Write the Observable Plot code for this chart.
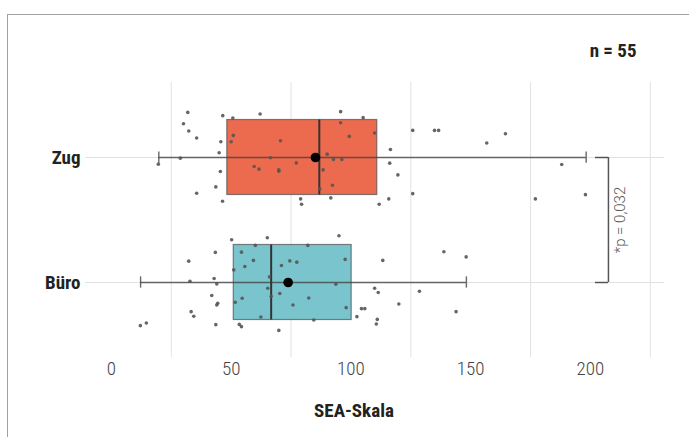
<!DOCTYPE html>
<html><head><meta charset="utf-8">
<script src="https://cdn.jsdelivr.net/npm/d3@7"></script>
<script src="https://cdn.jsdelivr.net/npm/@observablehq/plot@0.6"></script>
<style>
body{margin:0;background:#fff;}
#wrap{position:relative;width:689px;height:437px;overflow:hidden;background:#fff;}
#frame{position:absolute;left:7px;top:14px;right:-2px;bottom:-2px;border:1px solid #a0a0a0;pointer-events:none;}
#chart{position:absolute;left:0;top:0;}
</style></head><body>
<div id="wrap"><div id="chart"></div><div id="frame"></div></div>
<script>
// categories
const groups = ["Zug", "Büro"];
const boxColors = ["#EC6A4E", "#7AC5CD"];
// summary values
const minV = [19.8, 12.2];
const q1V = [48.4, 51.1];
const medV = [86.8, 66.7];
const q3V = [111.0, 100.3];
const maxV = [198.2, 148.2];
const meanV = [85.2, 73.8];
// individual observations (SEA-Skala) and their vertical jitter within the band
const zugValues = [31.9,30.1,32.3,35.6,46.5,50.7,62.1,50.9,50.0,45.7,70.6,45.0,28.8,19.6,66.4,59.6,61.6,69.9,69.9,45.5,43.6,35.6,46.4,95.7,105.1,95.7,99.3,109.9,90.1,92.7,96.2,77.2,88.4,92.3,87.0,91.6,79.0,79.4,116.5,116.2,119.6,125.8,134.9,136.6,125.8,115.8,111.8,164.5,156.7,188.0,177.0,197.9];
const zugJitter = [-0.361,-0.270,-0.212,-0.156,-0.335,-0.316,-0.348,-0.177,-0.126,-0.126,-0.134,-0.038,0.005,0.053,0.002,0.072,0.093,0.099,0.109,0.112,0.235,0.286,0.350,-0.367,-0.319,-0.278,-0.169,-0.196,-0.027,0.016,0.016,0.043,0.099,0.222,0.251,0.323,0.331,0.374,-0.064,0.045,0.139,-0.217,-0.217,-0.217,0.289,0.331,0.374,-0.190,-0.116,0.056,0.331,0.297];
const bueroValues = [50.2,65.1,60.1,43.4,32.3,54.3,59.3,55.7,71.0,51.1,42.9,32.8,44.0,66.0,65.3,66.7,70.3,41.9,54.6,51.7,44.4,44.0,33.3,34.4,62.4,12.1,14.6,43.6,53.4,54.3,69.9,95.0,82.0,74.5,77.4,97.6,113.3,138.8,148.1,93.7,109.9,111.4,128.6,82.4,75.8,98.0,104.4,105.8,120.0,143.9,102.5,84.5,111.0,110.6];
const bueroJitter = [-0.342,-0.358,-0.297,-0.241,-0.171,-0.243,-0.177,-0.128,-0.136,-0.101,-0.032,-0.010,0.011,-0.045,0.046,0.110,0.088,0.104,0.126,0.158,0.166,0.180,0.233,0.270,0.276,0.345,0.324,0.337,0.335,0.353,0.383,-0.374,-0.297,-0.173,-0.163,-0.185,-0.177,-0.246,-0.205,0.014,0.046,0.080,0.070,0.124,0.180,0.201,0.209,0.209,0.172,0.233,0.273,0.300,0.295,0.332];
// tick labels and annotations
const xTicks = [0, 50, 100, 150, 200];
const xGrid = [25, 75, 125, 175, 225];
const nLabel = "n = 55";
const xLabel = "SEA-Skala";
const pLabel = "*p = 0,032";
const bracketX = [202.1, 207.5];
const pLabelX = 212.6;

const rows = groups.map((g, i) => ({
  g, pos: i + 1, min: minV[i], q1: q1V[i], med: medV[i], q3: q3V[i], max: maxV[i], mean: meanV[i], color: boxColors[i]
}));
const pts = [
  ...zugValues.map((v, j) => ({v, pos: 1 + zugJitter[j]})),
  ...bueroValues.map((v, j) => ({v, pos: 2 + bueroJitter[j]}))
];
const caps = rows.flatMap(r => [{x: r.min, pos: r.pos}, {x: r.max, pos: r.pos}]);

const chart = Plot.plot({
  width: 689,
  height: 437,
  marginLeft: 85,
  marginRight: 25,
  marginTop: 82,
  marginBottom: 80,
  style: {background: "transparent", fontFamily: "Roboto, sans-serif"},
  x: {domain: [-10.8, 230.9]},
  y: {domain: [0.4, 2.6], reverse: true},
  color: {type: "identity"},
  marks: [
    Plot.ruleX(xGrid, {stroke: "#e2e2e2", strokeWidth: 1}),
    Plot.ruleY([1, 2], {stroke: "#e2e2e2", strokeWidth: 1}),
    Plot.rect(rows, {x1: "q1", x2: "q3", y1: d => d.pos - 0.3, y2: d => d.pos + 0.3, fill: "color", stroke: "#555", strokeOpacity: 0.75, strokeWidth: 1.2}),
    Plot.ruleY(rows, {y: "pos", x1: "min", x2: "max", stroke: "#444", strokeOpacity: 0.8, strokeWidth: 1.4}),
    Plot.ruleX(caps, {x: "x", y1: d => d.pos - 0.045, y2: d => d.pos + 0.045, stroke: "#444", strokeOpacity: 0.8, strokeWidth: 1.4}),
    Plot.ruleX(rows, {x: "med", y1: d => d.pos - 0.3, y2: d => d.pos + 0.3, stroke: "#333", strokeWidth: 2}),
    Plot.dot(pts, {x: "v", y: "pos", r: 1.8, fill: "#555", fillOpacity: 0.9}),
    Plot.dot(rows, {x: "mean", y: "pos", r: 4.8, fill: "#000"}),
    Plot.ruleY([1, 2], {x1: bracketX[0], x2: bracketX[1], stroke: "#555", strokeWidth: 1.5}),
    Plot.ruleX([bracketX[1]], {y1: 1, y2: 2, stroke: "#555", strokeWidth: 1.5}),
    Plot.text([pLabel], {x: pLabelX, y: 1.5, text: d => d, rotate: -90, fontSize: 15, fill: "#555", fontWeight: 300, className: "plabel"}),
    Plot.axisX({ticks: xTicks, tickSize: 0, tickPadding: 4, fontSize: 19, fill: "#444", fontWeight: 300, label: null}),
    Plot.axisY({ticks: [1, 2], tickFormat: i => groups[i - 1], tickSize: 0, tickPadding: 5, fontSize: 19, fontWeight: "bold", fill: "#222", label: null}),
    Plot.text([nLabel], {frameAnchor: "top-right", text: d => d, dx: -28, dy: -32, lineAnchor: "middle", textAnchor: "end", fontSize: 19, fontWeight: "bold", fill: "#222"}),
    Plot.text([xLabel], {frameAnchor: "bottom", text: d => d, dx: -21, dy: 53, lineAnchor: "middle", fontSize: 19, fontWeight: "bold", fill: "#222"})
  ]
});
chart.querySelectorAll("text").forEach(t => {
  if (!t.closest(".plabel")) t.style.fontStretch = "condensed";
});
document.getElementById("chart").appendChild(chart);
</script>
</body></html>
